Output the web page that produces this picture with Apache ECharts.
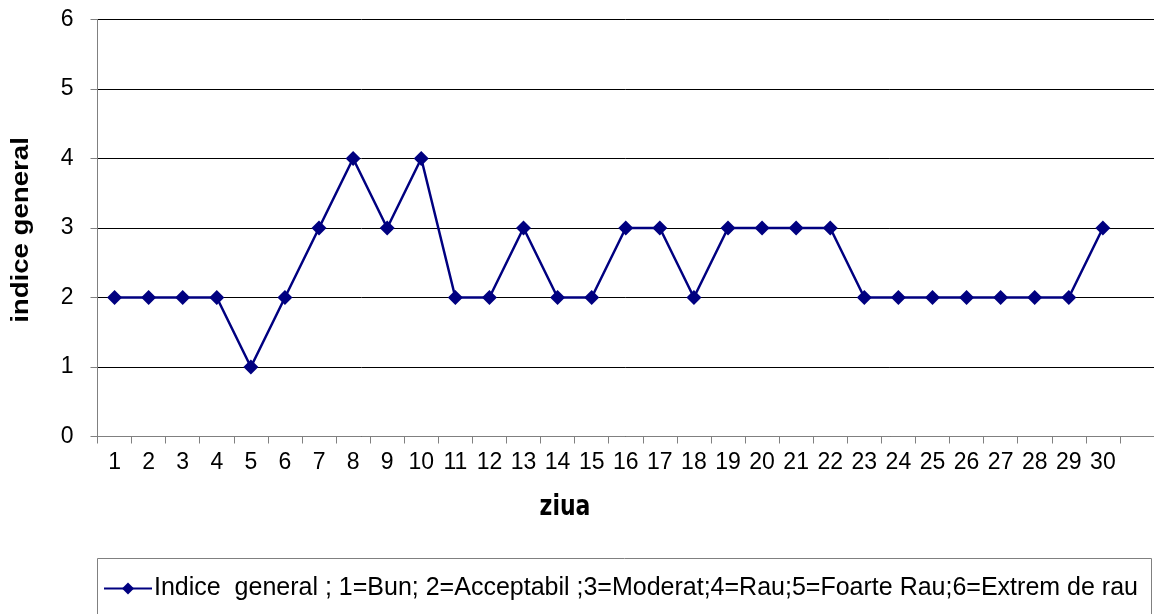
<!DOCTYPE html>
<html>
	<head>
		<meta charset="utf-8">
		<title>Indice general</title>
		<script src="https://cdn.jsdelivr.net/npm/echarts@6/dist/echarts.min.js"></script>
		<style>
			body { margin: 0; background: #fff; }
		</style>
	</head>
	<body>
		<div id="main" style="width: 1154px;height:614px;"></div>
		<script type="text/javascript">
			// zilele (a 31-a ramane goala, doar pentru ca axa sa continue)
			var zile = ['1','2','3','4','5','6','7','8','9','10','11','12','13','14','15',
				'16','17','18','19','20','21','22','23','24','25','26','27','28','29','30',''];
			var indice = [2,2,2,2,1,2,3,4,3,4,2,2,3,2,2,3,3,2,3,3,3,3,2,2,2,2,2,2,2,3,'-'];
			var numeSerie = 'Indice  general ; 1=Bun; 2=Acceptabil ;3=Moderat;4=Rau;5=Foarte Rau;6=Extrem de rau';
			var yMin = 0, yMax = 6, yPas = 1;

			var myChart = echarts.init(document.getElementById('main'));
			var font = '"Liberation Sans", Arial, sans-serif';

			var option = {
				animation: false,
				backgroundColor: '#fff',
				grid: {
					left: 97.5,
					top: 19.5,
					width: 1062,
					height: 417
				},
				xAxis: {
					type: 'category',
					data: zile,
					boundaryGap: true,
					axisLine: { lineStyle: { color: '#808080', width: 1 } },
					axisTick: { show: true, length: 7, lineStyle: { color: '#808080' } },
					axisLabel: { color: '#000', fontSize: 23, fontFamily: font, margin: 15, interval: 0 },
					splitLine: { show: false }
				},
				yAxis: {
					type: 'value',
					min: yMin,
					max: yMax,
					interval: yPas,
					axisLine: { show: true, lineStyle: { color: '#808080', width: 1 } },
					axisTick: { show: true, length: 7, lineStyle: { color: '#808080' } },
					axisLabel: { color: '#000', fontSize: 23, fontFamily: font, margin: 24 },
					splitLine: { show: true, lineStyle: { color: '#000', width: 1 } }
				},
				legend: {
					left: 98,
					top: 571,
					itemWidth: 48,
					itemHeight: 15,
					itemGap: 0,
					textStyle: { color: '#000', fontSize: 25, fontFamily: font, padding: [0, 0, 0, -3] },
					data: [numeSerie]
				},
				graphic: [
					{
						type: 'rect',
						shape: { x: 97.5, y: 558.5, width: 1054, height: 80 },
						style: { fill: 'none', stroke: '#808080', lineWidth: 1 },
						silent: true
					},
					{
						type: 'text',
						x: 22,
						y: 230,
						rotation: Math.PI / 2,
						scaleX: 1.2,
						style: {
							text: 'indice general',
							font: 'bold 23px "Liberation Sans", Arial, sans-serif',
							fill: '#000',
							textAlign: 'center',
							textVerticalAlign: 'middle'
						}
					},
					{
						type: 'text',
						x: 565,
						y: 508,
						scaleY: 1.25,
						style: {
							text: 'ziua',
							font: 'bold 22px "DejaVu Sans", Tahoma, sans-serif',
							fill: '#000',
							textAlign: 'center',
							textVerticalAlign: 'middle'
						}
					}
				],
				series: [
					{
						name: numeSerie,
						type: 'line',
						data: indice,
						symbol: 'diamond',
						symbolSize: 15,
						itemStyle: { color: '#000080' },
						lineStyle: { color: '#000080', width: 2.5 }
					}
				]
			};

			myChart.setOption(option);
		</script>
	</body>
</html>
